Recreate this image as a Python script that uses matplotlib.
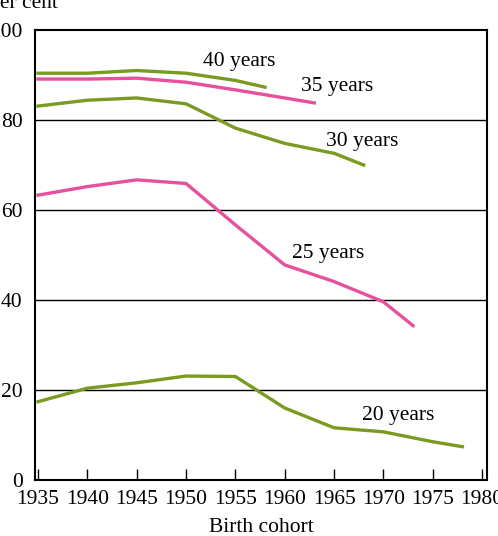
import matplotlib
matplotlib.use('Agg')
import matplotlib.pyplot as plt

plt.rcParams['font.family'] = ['Liberation Serif', 'DejaVu Serif']

green = '#7b9a22'
pink = '#e6509c'

# data: share of women (per cent) by birth cohort at given age
years_40 = [1935, 1940, 1945, 1950, 1955, 1958]
vals_40 = [90.4, 90.4, 91.0, 90.4, 88.8, 87.3]

years_35 = [1935, 1940, 1945, 1950, 1955, 1960, 1963]
vals_35 = [89.1, 89.1, 89.3, 88.4, 86.7, 84.9, 83.8]

years_30 = [1935, 1940, 1945, 1950, 1955, 1960, 1965, 1968]
vals_30 = [83.1, 84.4, 84.9, 83.6, 78.2, 74.8, 72.6, 70.0]

years_25 = [1935, 1940, 1945, 1950, 1955, 1960, 1965, 1970, 1973]
vals_25 = [63.3, 65.2, 66.7, 65.9, 56.7, 47.8, 44.1, 39.6, 34.3]

years_20 = [1935, 1940, 1945, 1950, 1955, 1960, 1965, 1970, 1975, 1978]
vals_20 = [17.4, 20.4, 21.6, 23.1, 23.0, 16.0, 11.6, 10.7, 8.5, 7.4]

series = [
    (years_40, vals_40, green, '40 years', 1951.7, 93.0),
    (years_35, vals_35, pink, '35 years', 1961.7, 87.4),
    (years_30, vals_30, green, '30 years', 1964.2, 75.2),
    (years_25, vals_25, pink, '25 years', 1960.7, 50.4),
    (years_20, vals_20, green, '20 years', 1967.8, 14.4),
]

fig = plt.figure(figsize=(4.98, 5.36), dpi=100)
ax = fig.add_axes([0.0703, 0.1045, 0.9077, 0.8395])

for yrs, vals, col, lab, tx, ty in series:
    ax.plot(yrs, vals, color=col, linewidth=2.4, zorder=3)
    ax.text(tx, ty, lab, fontsize=15.5, va='center', ha='left')

# gridlines
for g in [20, 40, 60, 80]:
    ax.axhline(g, color='black', linewidth=1.0, zorder=1)

ax.set_xlim(1934.7, 1980.5)
ax.set_ylim(0, 100)
ax.set_xticks(range(1935, 1981, 5))
ax.set_yticks(range(0, 101, 20))
ax.tick_params(axis='x', direction='in', length=8, width=1, labelsize=15.5, pad=7)
ax.tick_params(axis='y', length=0, labelsize=15.5, pad=9)
for s in ax.spines.values():
    s.set_linewidth(1.5)

ax.set_xlabel('Birth cohort', fontsize=15.5, labelpad=7)
fig.text(-0.024, 0.985, 'Per cent', fontsize=15.5, va='baseline', ha='left')

fig.savefig('out.png', dpi=100)
